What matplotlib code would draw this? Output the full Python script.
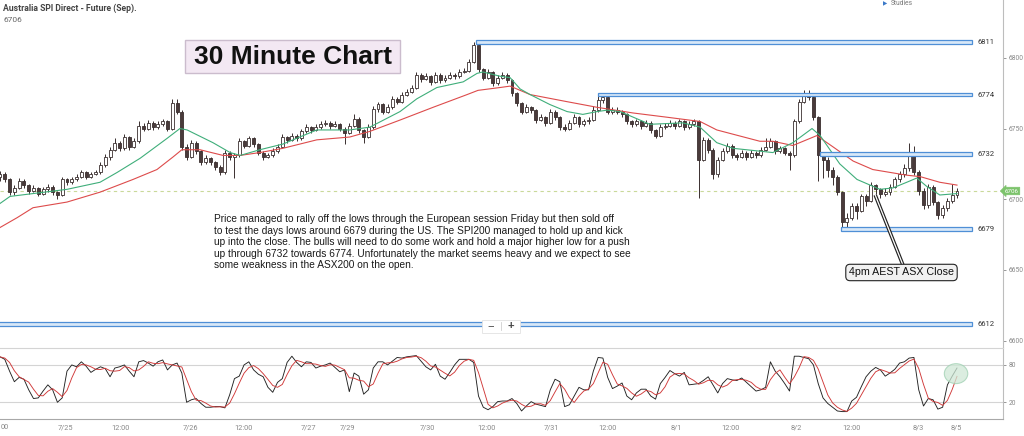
import matplotlib
matplotlib.use('Agg')
import matplotlib.pyplot as plt
from matplotlib.patches import Rectangle, Ellipse
import numpy as np
import pandas as pd

# ---------------- data ----------------
closes = [
    6718, 6714, 6705, 6708, 6713, 6710, 6706, 6708, 6704, 6707,
    6709, 6705, 6703, 6714, 6712, 6714, 6716, 6719, 6716, 6718,
    6719, 6724, 6730, 6735, 6740, 6736, 6744, 6737, 6741, 6752,
    6750, 6754, 6751, 6753, 6755, 6750, 6768, 6762, 6737, 6730,
    6740, 6734, 6726, 6729, 6726, 6723, 6719, 6733, 6730, 6731,
    6741, 6738, 6743, 6739, 6733, 6730, 6731, 6734, 6737, 6744,
    6742, 6745, 6743, 6748, 6751, 6749, 6751, 6753, 6754, 6752,
    6753, 6750, 6747, 6752, 6757, 6749, 6744, 6751, 6764, 6767,
    6762, 6765, 6771, 6769, 6774, 6776, 6779, 6788, 6785, 6787,
    6783, 6788, 6784, 6786, 6788, 6787, 6790, 6791, 6797, 6809,
    6792, 6786, 6790, 6782, 6786, 6788, 6784, 6775, 6768, 6762,
    6765, 6763, 6756, 6758, 6754, 6762, 6758, 6751, 6750, 6754,
    6758, 6753, 6755, 6756, 6763, 6770, 6772, 6762, 6763, 6762,
    6760, 6755, 6753, 6755, 6752, 6754, 6749, 6745, 6751, 6752,
    6754, 6752, 6755, 6751, 6753, 6755, 6728, 6742, 6735, 6718,
    6728, 6734, 6738, 6731, 6730, 6733, 6730, 6733, 6731, 6735,
    6737, 6741, 6734, 6736, 6733, 6731, 6755, 6769, 6775, 6772,
    6758, 6731, 6728, 6721, 6716, 6705, 6684, 6687, 6695, 6692,
    6702, 6699, 6710, 6707, 6704, 6705, 6709, 6714, 6718, 6722,
    6731, 6719, 6706, 6696, 6709, 6698, 6689, 6694, 6699, 6703,
    6706]
highs = [
    6720, 6719, 6715, 6710, 6715, 6714, 6711, 6710, 6709, 6709,
    6711, 6710, 6706, 6716, 6715, 6716, 6718, 6721, 6720, 6719,
    6721, 6726, 6732, 6737, 6743, 6741, 6746, 6745, 6743, 6755,
    6754, 6756, 6755, 6755, 6757, 6756, 6771, 6771, 6763, 6739,
    6742, 6741, 6735, 6731, 6730, 6727, 6724, 6735, 6734, 6733,
    6743, 6742, 6745, 6744, 6740, 6734, 6733, 6736, 6739, 6746,
    6745, 6747, 6746, 6750, 6753, 6752, 6753, 6755, 6756, 6755,
    6755, 6754, 6751, 6754, 6760, 6758, 6750, 6753, 6766, 6769,
    6768, 6767, 6773, 6772, 6776, 6778, 6781, 6790, 6789, 6789,
    6788, 6790, 6789, 6788, 6790, 6789, 6792, 6793, 6799, 6811,
    6811, 6793, 6792, 6791, 6788, 6790, 6789, 6785, 6776, 6769,
    6767, 6766, 6764, 6760, 6759, 6764, 6763, 6759, 6753, 6756,
    6760, 6759, 6757, 6758, 6766, 6774, 6774, 6773, 6765, 6765,
    6763, 6761, 6756, 6757, 6756, 6756, 6755, 6750, 6753, 6754,
    6756, 6755, 6757, 6756, 6755, 6757, 6756, 6744, 6743, 6736,
    6730, 6736, 6740, 6739, 6733, 6735, 6734, 6735, 6734, 6737,
    6743, 6743, 6742, 6738, 6737, 6734, 6757, 6771, 6777, 6777,
    6773, 6759, 6733, 6730, 6723, 6717, 6706, 6690, 6697, 6697,
    6704, 6704, 6712, 6711, 6708, 6708, 6711, 6716, 6720, 6725,
    6740, 6738, 6721, 6708, 6711, 6710, 6699, 6696, 6701, 6711,
    6708]
lows = [
    6713, 6712, 6703, 6703, 6707, 6708, 6704, 6705, 6702, 6703,
    6705, 6703, 6700, 6702, 6710, 6711, 6713, 6715, 6714, 6715,
    6717, 6718, 6723, 6728, 6734, 6734, 6735, 6735, 6736, 6740,
    6748, 6749, 6749, 6750, 6752, 6748, 6749, 6760, 6735, 6728,
    6729, 6732, 6724, 6725, 6724, 6721, 6717, 6718, 6728, 6715,
    6730, 6736, 6737, 6737, 6731, 6728, 6729, 6730, 6733, 6736,
    6740, 6741, 6741, 6742, 6747, 6747, 6748, 6750, 6752, 6750,
    6751, 6748, 6739, 6746, 6751, 6747, 6740, 6743, 6750, 6762,
    6760, 6761, 6764, 6767, 6768, 6773, 6775, 6778, 6783, 6784,
    6781, 6782, 6782, 6783, 6785, 6785, 6786, 6789, 6790, 6796,
    6790, 6784, 6785, 6780, 6781, 6785, 6782, 6773, 6766, 6760,
    6761, 6761, 6754, 6755, 6752, 6753, 6756, 6749, 6748, 6749,
    6753, 6751, 6752, 6753, 6755, 6762, 6768, 6760, 6760, 6760,
    6758, 6753, 6751, 6752, 6750, 6751, 6747, 6743, 6744, 6750,
    6751, 6750, 6751, 6749, 6750, 6752, 6701, 6727, 6733, 6714,
    6716, 6727, 6733, 6729, 6728, 6729, 6728, 6729, 6729, 6730,
    6734, 6736, 6732, 6733, 6731, 6721, 6730, 6754, 6768, 6770,
    6756, 6713, 6715, 6716, 6710, 6703, 6679, 6679, 6685, 6686,
    6691, 6695, 6698, 6704, 6701, 6702, 6703, 6708, 6712, 6716,
    6720, 6717, 6703, 6693, 6694, 6696, 6686, 6687, 6692, 6697,
    6701]
first_open = 6716
opens = [first_open] + closes[:-1]   # each 30-min bar opens at the prior close

# moving averages (bar position, price)
ma_fast_x = [0, 2.1, 6.9, 14, 20.9, 24.5, 29.3, 34.9, 37.6, 39.1, 44.5, 48.1, 50.2, 54.3, 59.1,
             66.2, 73.1, 77.3, 83.6, 87.1, 91.3, 96.8, 99.7, 100.9, 104.5, 106.6, 108.7, 110.8,
             114.9, 118.5, 121.8, 124.8, 126.9, 129.6, 135.8, 142.7, 146.3, 149.8, 153.2, 158.8,
             161.5, 165.7, 169.7, 171.4, 175.5, 179.1, 183.9, 186.6, 189.5, 191.6, 193.7, 196.4, 200]
ma_fast_y = [6697, 6702, 6704, 6707, 6712, 6719, 6729, 6743, 6750, 6749, 6740, 6733, 6731, 6735, 6739,
             6749, 6749, 6751, 6762, 6771, 6779, 6783, 6789, 6790, 6787, 6786, 6778, 6774,
             6767, 6762, 6760, 6762, 6763, 6762, 6753, 6754, 6751, 6740, 6736, 6734,
             6733, 6740, 6750, 6745, 6725, 6714, 6707, 6708, 6712, 6715, 6709, 6703, 6704]
ma_slow_x = [0, 3.6, 6.9, 14, 20.9, 27.8, 32.8, 36.2, 38, 41.8, 46.6, 50.2, 54.3, 59.1, 66.2,
             73.1, 77.3, 83.6, 90.5, 97.6, 99.9, 104.5, 106.6, 110.8, 118.5, 124.8, 132.3, 139.4,
             146.3, 149.8, 158.8, 161.5, 165.7, 170.7, 174.1, 178.3, 182.4, 189.5, 192.3, 196.4, 200]
ma_slow_y = [6680, 6687, 6694, 6698, 6705, 6714, 6721, 6730, 6735, 6735, 6731, 6731, 6733, 6736, 6742,
             6744, 6748, 6756, 6765, 6774, 6777, 6779, 6780, 6774, 6769, 6765, 6761, 6758,
             6755, 6749, 6741, 6741, 6738, 6745, 6737, 6727, 6721, 6717, 6716, 6712, 6710]

# stochastic %K per bar
stoch_k = [
    93, 89, 70, 53, 60, 57, 40, 26, 27, 38,
    48, 40, 20, 27, 70, 80, 77, 85, 78, 68,
    73, 77, 74, 61, 75, 77, 80, 70, 61, 85,
    87, 83, 78, 85, 88, 72, 80, 83, 67, 20,
    24, 26, 18, 12, 12, 13, 13, 11, 32, 58,
    62, 80, 85, 72, 65, 61, 44, 36, 52, 58,
    84, 94, 84, 77, 85, 84, 75, 78, 80, 83,
    76, 69, 72, 37, 67, 62, 33, 40, 75, 85,
    85, 80, 86, 92, 91, 93, 94, 95, 86, 77,
    72, 81, 62, 57, 68, 80, 89, 89, 89, 84,
    30, 12, 8, 13, 21, 22, 22, 26, 18, 6,
    14, 21, 17, 15, 13, 40, 57, 53, 13, 16,
    30, 44, 40, 40, 70, 92, 91, 60, 42, 46,
    51, 30, 24, 35, 41, 41, 30, 25, 50, 60,
    71, 66, 62, 68, 48, 49, 50, 55, 61, 48,
    35, 50, 58, 56, 55, 59, 52, 45, 38, 40,
    44, 85, 70, 61, 50, 38, 94, 94, 92, 90,
    80, 50, 27, 18, 12, 6, 5, 5, 22, 28,
    45, 61, 70, 76, 72, 62, 67, 73, 83, 85,
    91, 92, 40, 14, 26, 24, 9, 12, 48, 62,
    75]

levels = [6811, 6774, 6732, 6679, 6612]
level_start = [99.5, 125, 171.4, 175.8, -1]   # bar where each level line begins
last_price = 6706

tick_pos = [13.7, 25.2, 39.9, 50.8, 64.4, 72.7, 89.4, 101.7, 115.3, 126.9,
            141.3, 152.6, 166.4, 178.0, 191.8, 199.9]
tick_labels = ['7/25', '12:00', '7/26', '12:00', '7/27', '7/29', '7/30', '12:00', '7/31', '12:00',
               '8/1', '12:00', '8/2', '12:00', '8/3', '8/5']
edge_label = '00'   # the part of the first time label ("12:00") left visible at the left edge

title = 'Australia SPI Direct - Future (Sep).'
note = ("Price managed to rally off the lows through the European session Friday but then sold off\n"
        "to test the days lows around 6679 during the US. The SPI200 managed to hold up and kick\n"
        "up into the close. The bulls will need to do some work and hold a major higher low for a push\n"
        "up through 6732 towards 6774. Unfortunately the market seems heavy and we expect to see\n"
        "some weakness in the ASX200 on the open.")

# ---------------- layout ----------------
W, H = 1024, 436
fig = plt.figure(figsize=(W / 100, H / 100), dpi=100)
fig.patch.set_facecolor('white')

def fx(px):
    return px / W

def fy(py):
    return 1 - py / H

ROBOTO = ['Roboto', 'DejaVu Sans']
ARIAL = ['Liberation Sans', 'DejaVu Sans']

ax = fig.add_axes([0, fy(347), fx(1003), 347 / H])
ax2 = fig.add_axes([0, fy(419), fx(1003), (419 - 348) / H])

XMAX = 1003 / 4.785
n = len(closes)
x = np.arange(n)

# ---- candles ----
edge = '#3a2f2f'
ax.vlines(x, lows, highs, color=edge, lw=0.7, zorder=3)
o = np.array(opens, float)
c = np.array(closes, float)
bottom = np.minimum(o, c)
height = np.maximum(np.abs(c - o), 0.4)
face = ['white' if cc >= oo else '#4a3b3b' for oo, cc in zip(o, c)]
ax.bar(x, height, bottom=bottom, width=0.62, color=face, edgecolor=edge, linewidth=0.6, zorder=4)

# ---- moving averages ----
ax.plot(ma_slow_x, ma_slow_y, color='#dd4b4b', lw=0.8, zorder=5)
ax.plot(ma_fast_x, ma_fast_y, color='#3fae7a', lw=0.8, zorder=5)

# ---- last-price dashed line ----
ax.plot([0, XMAX], [last_price, last_price], color='#c9d99a', lw=0.8, ls=(0, (3, 3)), zorder=2)

# ---- horizontal levels ----
lvl_end = 203.1
for lv, st in zip(levels, level_start):
    ax.add_patch(Rectangle((st, lv - 1.3), lvl_end - st, 2.6, facecolor='#d8e8f8',
                           edgecolor='#4f8fd6', lw=0.9, zorder=6))
    ax.text(204.2, lv, str(lv), fontsize=5.5, family=ROBOTO, color='#333333',
            va='center', ha='left', zorder=7)

ax.set_xlim(0, XMAX)
ax.set_ylim(6595.5, 6840.9)
ax.yaxis.tick_right()
ax.set_yticks([6600, 6650, 6700, 6750, 6800])
ax.tick_params(axis='y', labelsize=4.8, colors='#888888', length=2, width=0.6, pad=2)
for lab in ax.get_yticklabels():
    lab.set_family(ROBOTO)
ax.set_xticks([])
for s in ['top', 'left', 'bottom']:
    ax.spines[s].set_visible(False)
ax.spines['right'].set_color('#bdbdbd')
ax.spines['right'].set_linewidth(0.8)

# annotation with double-line pointer
arrow_x = [182.9, 188.7]
arrow_y = [6703, 6653.5]
ax.plot(arrow_x, arrow_y, color='#222222', lw=2.6, solid_capstyle='butt', zorder=8)
ax.plot(arrow_x, arrow_y, color='white', lw=0.9, solid_capstyle='butt', zorder=9)
ax.text(188.4, 6648.2, '4pm AEST ASX Close', fontsize=7.7, family=ARIAL, color='#111111',
        ha='center', va='center', zorder=10,
        bbox=dict(boxstyle='round,pad=0.3,rounding_size=0.4', fc='#f1f1f1', ec='#222222', lw=0.8))

# ---- stochastic panel ----
k = pd.Series(stoch_k, dtype=float)
d = k.rolling(3, min_periods=1).mean()
ax2.axhline(80, color='#d4d4d4', lw=0.8, zorder=1)
ax2.axhline(20, color='#d4d4d4', lw=0.8, zorder=1)
ax2.plot(x, k, color='#222222', lw=0.65, zorder=3)
ax2.plot(x, d, color='#d03838', lw=0.65, zorder=4)
ax2.add_patch(Ellipse((199.8, 66), 4.9, 32, facecolor='#cfe8d6', edgecolor='#9fd0b2',
                      lw=0.8, alpha=0.75, zorder=5))
ax2.set_xlim(0, XMAX)
ax2.set_ylim(-6.9, 107.2)
ax2.yaxis.tick_right()
ax2.set_yticks([20, 80])
ax2.tick_params(axis='y', labelsize=4.8, colors='#888888', length=2, width=0.6, pad=2)
ax2.set_xticks(tick_pos)
ax2.set_xticklabels(tick_labels)
ax2.tick_params(axis='x', labelsize=5.3, colors='#888888', length=0, pad=4)
for lab in ax2.get_yticklabels() + ax2.get_xticklabels():
    lab.set_family(ROBOTO)
ax2.spines['left'].set_visible(False)
ax2.spines['top'].set_color('#d4d4d4')
ax2.spines['top'].set_linewidth(0.8)
ax2.spines['bottom'].set_color('#a8a8a8')
ax2.spines['right'].set_color('#bdbdbd')
ax2.spines['bottom'].set_linewidth(0.8)
ax2.spines['right'].set_linewidth(0.8)
fig.text(fx(0.5), fy(427), edge_label, fontsize=5.3, family=ROBOTO, color='#888888',
         ha='left', va='center')

# ---- header texts ----
fig.text(fx(3), fy(8), title, fontsize=6.2, family=ROBOTO, weight='bold', color='#444444',
         ha='left', va='center')
fig.text(fx(3), fy(20), '6706', fontsize=6.0, family=ROBOTO, color='#666666',
         ha='left', va='center')
fig.text(fx(883), fy(3.5), '\u25B6', fontsize=4, family=['DejaVu Sans'], color='#3a78c8',
         ha='left', va='center')
fig.text(fx(891), fy(3.5), 'Studies', fontsize=4.8, family=ROBOTO, color='#777777',
         ha='left', va='center')

# "30 Minute Chart" label
fig.patches.append(Rectangle((fx(185), fy(73)), fx(400 - 185), 33 / H, transform=fig.transFigure,
                             facecolor='#f3e8f3', edgecolor='#cbbccd', lw=1.0, zorder=20))
fig.text(fx(292.5), fy(57), '30 Minute Chart', fontsize=19, family=ARIAL, weight='bold',
         color='#111111', ha='center', va='center', zorder=21)

# commentary
fig.text(fx(214), fy(214), note, fontsize=7.3, family=ARIAL, color='#1a1a1a', ha='left', va='top',
         linespacing=1.2, zorder=21)

# current price tag
fig.text(fx(1011.5), fy(191), str(last_price), fontsize=4.5, family=ROBOTO, color='white',
         ha='center', va='center', zorder=22,
         bbox=dict(boxstyle='larrow,pad=0.2', fc='#7cc36b', ec='#7cc36b', lw=0.5))

# zoom buttons
fig.patches.append(Rectangle((fx(482), fy(333)), fx(38), 13 / H, transform=fig.transFigure,
                             facecolor='white', edgecolor='#e2e2e2', lw=0.6, zorder=20))
fig.text(fx(491), fy(326), '\u2212', fontsize=8, family=ARIAL, color='#444444',
         ha='center', va='center', zorder=21)
fig.text(fx(510.5), fy(326), '+', fontsize=8, family=ARIAL, color='#444444', weight='bold',
         ha='center', va='center', zorder=21)
fig.lines.append(plt.Line2D([fx(501), fx(501)], [fy(330), fy(322)], transform=fig.transFigure,
                            color='#d0d0d0', lw=0.6, zorder=21))

fig.savefig('out.png', dpi=100, facecolor='white')
